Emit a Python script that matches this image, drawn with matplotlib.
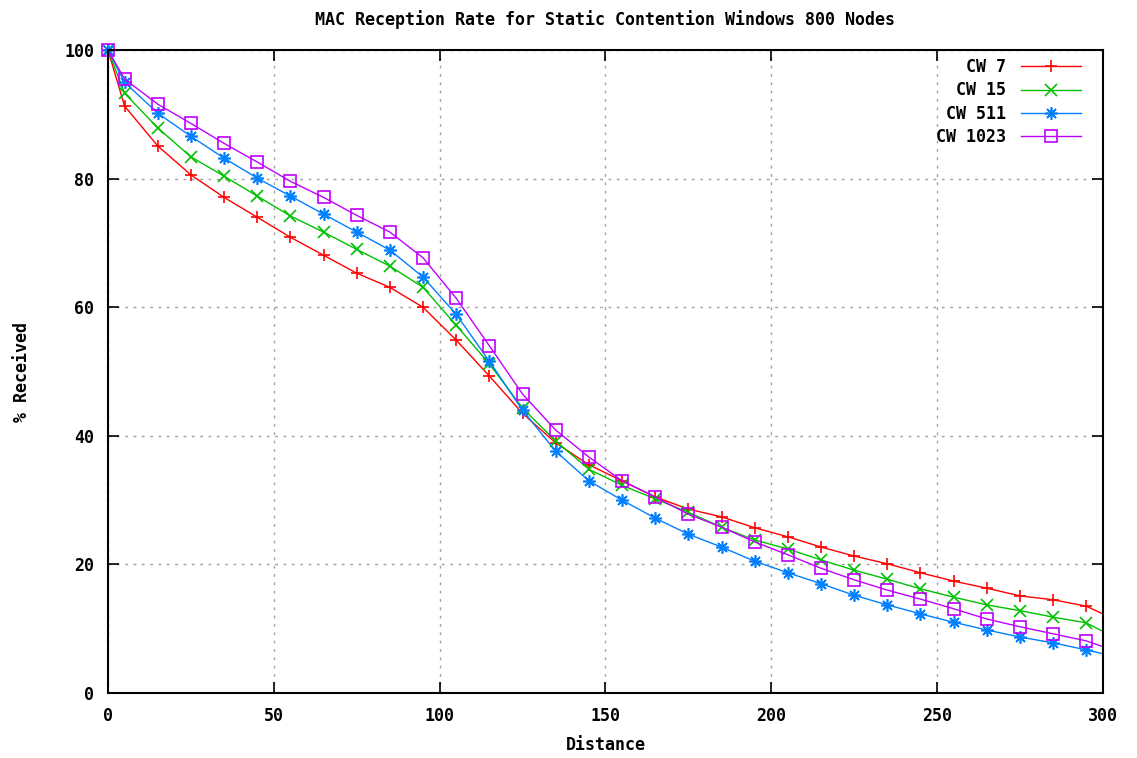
import matplotlib.pyplot as plt
import numpy as np

###--- Data ---###
distance = [0, 5, 15, 25, 35, 45, 55, 65, 75, 85, 95, 105, 115, 125, 135, 145,
            155, 165, 175, 185, 195, 205, 215, 225, 235, 245, 255, 265, 275,
            285, 295, 300]

cw7 = [100, 91.3, 85.1, 80.6, 77.1, 74.0, 70.9, 68.1, 65.3, 63.1, 60.0, 54.9,
       49.3, 43.5, 38.9, 35.5, 33.0, 30.5, 28.6, 27.4, 25.7, 24.3, 22.7, 21.3,
       20.1, 18.7, 17.4, 16.3, 15.1, 14.5, 13.5, 12.3]
cw15 = [100, 93.3, 87.9, 83.4, 80.4, 77.3, 74.2, 71.7, 69.0, 66.4, 63.1, 57.2,
        51.2, 44.3, 39.2, 34.8, 32.3, 30.2, 28.1, 25.8, 23.8, 22.4, 20.7, 19.1,
        17.7, 16.2, 14.9, 13.7, 12.8, 11.8, 10.9, 9.6]
cw511 = [100, 95.0, 90.2, 86.6, 83.2, 80.1, 77.3, 74.5, 71.7, 68.9, 64.7, 58.9,
         51.6, 44.0, 37.6, 33.0, 30.0, 27.2, 24.7, 22.7, 20.5, 18.7, 17.0, 15.2,
         13.7, 12.3, 11.0, 9.8, 8.7, 7.8, 6.7, 6.1]
cw1023 = [100, 95.5, 91.6, 88.6, 85.5, 82.6, 79.6, 77.1, 74.3, 71.7, 67.7, 61.4,
          54.0, 46.5, 40.9, 36.7, 33.0, 30.5, 27.8, 25.8, 23.5, 21.5, 19.4, 17.6,
          16.0, 14.6, 13.1, 11.5, 10.3, 9.2, 8.1, 7.2]

# gnuplot point types: plus, cross, asterisk (plus + cross), open box
series = [("CW 7", cw7, "#ff0000", "+"),
          ("CW 15", cw15, "#00c000", "x"),
          ("CW 511", cw511, "#0080ff", (8, 2, 0)),
          ("CW 1023", cw1023, "#c000ff", "s")]

mono = "DejaVu Sans Mono"

fig = plt.figure(figsize=(11.37, 7.58), dpi=100)
ax = fig.add_axes([0.095, 0.0858, 0.875, 0.848])

# markers on every point except the last one at the right border
marks = list(range(len(distance) - 1))
for label, vals, color, m in series:
    ax.plot(distance, vals, color=color, lw=1.0, marker=m, markevery=marks,
            markersize=9 if m != "s" else 8, markeredgewidth=1.2,
            markerfacecolor="none" if m == "s" else color,
            markeredgecolor=color, label=label, clip_on=False)

ax.set_xlim(0, 300)
ax.set_ylim(0, 100)
ax.set_xticks(np.arange(0, 301, 50))
ax.set_yticks(np.arange(0, 101, 20))
ax.grid(True, color="#a0a0a0", linestyle=(0, (2, 4)), lw=1.0)
ax.tick_params(direction="in", top=True, right=True, length=8, width=1.2, pad=10)
for lab in ax.get_xticklabels() + ax.get_yticklabels():
    lab.set_family(mono)
    lab.set_fontweight("bold")
    lab.set_fontsize(12)
for sp in ax.spines.values():
    sp.set_linewidth(1.5)

ax.set_title("MAC Reception Rate for Static Contention Windows 800 Nodes",
             family=mono, fontsize=12, fontweight="bold", pad=18)
ax.set_xlabel("Distance", family=mono, fontsize=12, fontweight="bold", labelpad=8)
ax.set_ylabel("% Received", family=mono, fontsize=12, fontweight="bold", labelpad=24)

leg = ax.legend(loc="upper right", markerfirst=False, frameon=False,
                handlelength=3.6, handletextpad=0.9, borderaxespad=0.2,
                labelspacing=0.32, borderpad=0.2,
                bbox_to_anchor=(0.985, 0.998),
                prop={"family": mono, "weight": "bold", "size": 12})
for t in leg.get_texts():
    t.set_ha("right")

fig.savefig("out.png", dpi=100)
